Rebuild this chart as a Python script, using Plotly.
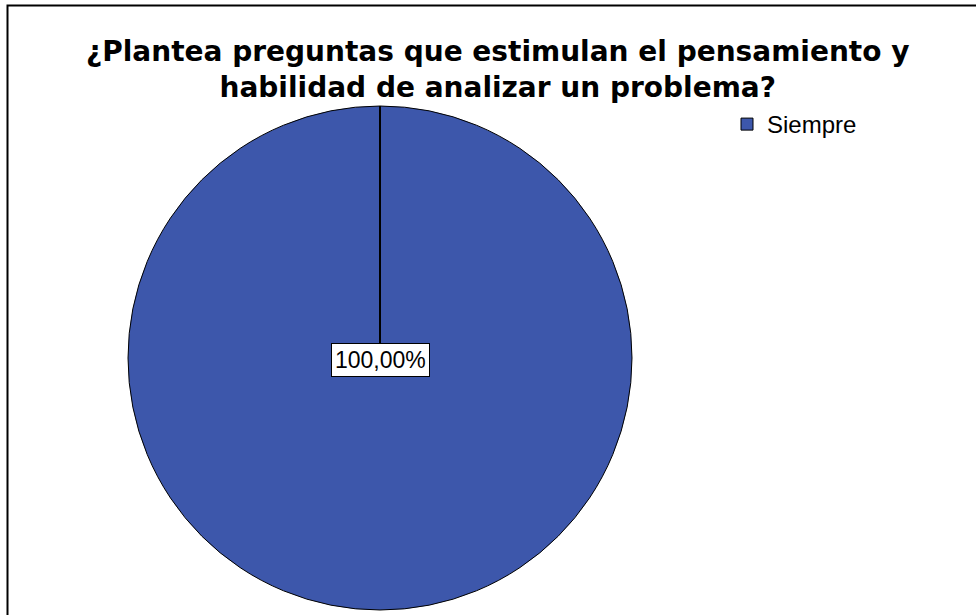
import plotly.graph_objects as go

categories = ["Siempre"]
values = [100]
colors = ["#3D57AB"]
title_lines = ["¿Plantea preguntas que estimulan el pensamiento y",
               "habilidad de analizar un problema?"]

W, H = 976, 615
total = sum(values)
pct_label = f"{values[0] / total * 100:.2f}%".replace(".", ",")

# pie placement (pixels)
cx, cy, r = 380, 358, 252


def px(x):
    return x / W


def py(y):
    return 1 - y / H


fig = go.Figure()
fig.add_trace(go.Pie(
    labels=categories,
    values=values,
    marker=dict(colors=colors, line=dict(color="black", width=1)),
    textinfo="none",
    hoverinfo="label+percent",
    sort=False,
    direction="clockwise",
    rotation=0,
    domain=dict(x=[px(cx - r), px(cx + r)], y=[py(cy + r), py(cy - r)]),
))

title_font = dict(size=28, family="DejaVu Sans, Liberation Sans, Arial, sans-serif", color="black")
annotations = [
    dict(text="<b>" + "<br>".join(title_lines) + "</b>", xref="paper", yref="paper",
         x=px(497), y=py(69), xanchor="center", yanchor="middle",
         showarrow=False, font=title_font),
    dict(text=pct_label, xref="paper", yref="paper",
         x=px(380.5), y=py(359.5), xanchor="center", yanchor="middle",
         showarrow=False, bgcolor="white", bordercolor="black", borderwidth=1,
         borderpad=3, font=dict(size=23, color="black",
                                family="Liberation Sans, Arial, sans-serif")),
]

fig.update_layout(
    width=W, height=H,
    margin=dict(l=0, r=0, t=0, b=0),
    paper_bgcolor="white",
    plot_bgcolor="white",
    font=dict(family="Liberation Sans, Arial, sans-serif", color="black"),
    legend=dict(
        x=px(727), xanchor="left",
        y=py(102), yanchor="top",
        font=dict(size=24),
        bgcolor="rgba(0,0,0,0)",
        itemwidth=30,
    ),
    showlegend=True,
    shapes=[
        dict(type="rect", xref="paper", yref="paper",
             x0=px(7.5), x1=1.02, y0=-0.02, y1=py(5.5),
             line=dict(color="black", width=2), fillcolor="rgba(0,0,0,0)", layer="above"),
        dict(type="line", xref="paper", yref="paper",
             x0=px(cx), x1=px(cx), y0=py(cy), y1=py(cy - r),
             line=dict(color="black", width=2), layer="above"),
    ],
    annotations=annotations,
)

fig.write_html("out.html", config={"displayModeBar": False},
               post_script="document.body.style.margin='0';")
